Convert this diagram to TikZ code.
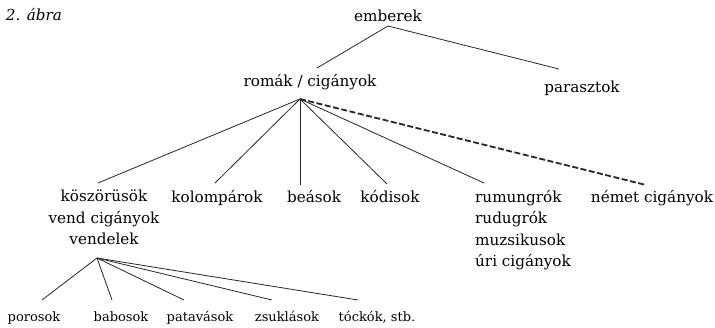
\documentclass[tikz,border=0pt]{standalone}
\usepackage{fontspec}
\setmainfont{DejaVu Serif}
\begin{document}
\begin{tikzpicture}[x=1pt,y=-1pt,
  nagy/.style={font=\fontsize{15.2}{21.5}\selectfont,inner sep=0pt},
  kicsi/.style={font=\fontsize{13}{16}\selectfont,inner sep=0pt,anchor=base},
  ag/.style={line width=0.8pt,black!85},
  szaggatott/.style={line width=1.8pt,dash pattern=on 6pt off 2.5pt,black!85}]
\useasboundingbox (0,0) rectangle (715,327);
% Felső szint
\node[nagy,anchor=base] (abra) at (34,20) {\itshape 2. ábra};
\node[nagy,anchor=base] (emb) at (388,21) {emberek};
\node[nagy,anchor=base] (rom) at (310,86) {romák / cigányok};
\node[nagy,anchor=base] (par) at (582,92) {parasztok};
\coordinate (emb0) at (388,26);
\coordinate (emb1) at (317,68);
\coordinate (emb2) at (559,69);
\draw[ag] (emb1) -- (emb0) -- (emb2);
% Romák / cigányok csoportjai
\node[nagy,anchor=north,align=center] (kos) at (104,190) {köszörüsök\\vend cigányok\\vendelek};
\node[nagy,anchor=north] (kol) at (217,190) {kolompárok};
\node[nagy,anchor=north] (bea) at (314,190) {beások};
\node[nagy,anchor=north] (kod) at (390,190) {kódisok};
\node[nagy,anchor=north west,align=left] (rum) at (475,190) {rumungrók\\rudugrók\\muzsikusok\\úri cigányok};
\node[nagy,anchor=north] (nem) at (652,190) {német cigányok};
\coordinate (rom0) at (300,99);
\foreach \n/\x/\y in {kos/98/183,kol/215/183,bea/300/185,kod/387/184,rum/484/183} {
    \coordinate (\n1) at (\x,\y);
    \draw[ag] (rom0) -- (\n1);
}
\coordinate (nem1) at (646,185);
\draw[szaggatott] (rom0) -- (nem1);
% Vendelek alcsoportjai
\node[kicsi] (por) at (34,321) {porosok};
\node[kicsi] (bab) at (121,321) {babosok};
\node[kicsi] (pat) at (200,321) {patavások};
\node[kicsi] (zsu) at (287,321) {zsuklások};
\node[kicsi] (toc) at (377,321) {tóckók, stb.};
\coordinate (ven0) at (97,258);
\foreach \n/\x in {por/42,bab/112,pat/184,zsu/272,toc/358} {
    \coordinate (\n1) at (\x,300);
    \draw[ag] (ven0) -- (\n1);
}
\end{tikzpicture}
\end{document}
